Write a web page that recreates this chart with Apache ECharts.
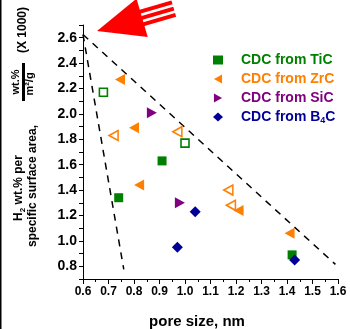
<!DOCTYPE html>
<html>
<head>
<meta charset="utf-8">
<script src="https://cdn.jsdelivr.net/npm/echarts@6/dist/echarts.min.js"></script>
<style>
    html, body {margin: 0; padding: 0; background: #fff;}
    #chart {width: 350px; height: 329px;}
</style>
</head>
<body>
<div id="chart"></div>
<script>
    // axis ranges
    const xRange = [0.6, 1.6];
    const yRange = [0.7, 2.7];
    const yLabelValues = ['0.8', '1.0', '1.2', '1.4', '1.6', '1.8', '2.0', '2.2', '2.4', '2.6'];

    // CDC from TiC (filled / open)
    const ticFilled = [[0.74, 1.34], [0.91, 1.63], [1.42, 0.89]];
    const ticOpen = [[0.68, 2.17], [1.00, 1.77]];
    // CDC from ZrC
    const zrcFilled = [[0.745, 2.27], [0.80, 1.89], [0.82, 1.44], [1.21, 1.24], [1.41, 1.06]];
    const zrcOpen = [[0.72, 1.83], [0.97, 1.86], [1.17, 1.40], [1.18, 1.28]];
    // CDC from SiC
    const sicFilled = [[0.87, 2.01], [0.98, 1.30]];
    // CDC from B4C
    const b4cFilled = [[1.04, 1.23], [0.97, 0.95], [1.43, 0.85]];

    // dashed bounds
    const boundUpper = [[0.6, 2.625], [1.59, 0.815]];
    const boundLower = [[0.6, 2.625], [0.76, 0.775]];

    const GREEN = '#008000', ORANGE = '#ff7f00', PURPLE = '#800080', BLUE = '#000099';
    const TRI_LEFT = 'path://M0,5L9,0L9,10Z';
    const TRI_RIGHT = 'path://M0,0L9,5L0,10Z';
    const FONT = 'Liberation Sans, Arial, sans-serif';

    let chart = echarts.init(document.getElementById('chart'));

    // red arrow (decoration)
    function arrowGraphic() {
        const tip = [97, 31], dir = [0.96, -0.28], perp = [0.28, 0.96];
        const len = 47, half = 20;
        const bc = [tip[0] + dir[0] * len, tip[1] + dir[1] * len];
        let items = [{
            type: 'polygon',
            shape: {points: [tip, [bc[0] - perp[0] * half, bc[1] - perp[1] * half], [bc[0] + perp[0] * half, bc[1] + perp[1] * half]]},
            style: {fill: '#ff0000'},
            z: 10
        }];
        [-6.5, 0, 6.5].forEach(function (o) {
            const s = [tip[0] + dir[0] * 38 + perp[0] * o, tip[1] + dir[1] * 38 + perp[1] * o];
            const e = [tip[0] + dir[0] * 80 + perp[0] * o, tip[1] + dir[1] * 80 + perp[1] * o];
            items.push({
                type: 'line',
                shape: {x1: s[0], y1: s[1], x2: e[0], y2: e[1]},
                style: {stroke: '#ff0000', lineWidth: 4},
                z: 9
            });
        });
        return items;
    }

    function vText(x, y, text, size, rich) {
        return {
            type: 'text', x: x, y: y, rotation: Math.PI / 2, z: 20,
            style: {
                text: text, fill: '#000', font: 'bold ' + size + 'px ' + FONT,
                align: 'center', verticalAlign: 'middle', rich: rich
            }
        };
    }

    const subRich = {
        a: {fontSize: 12, fontWeight: 'bold', fontFamily: FONT, lineHeight: 16, verticalAlign: 'middle'},
        s: {fontSize: 8, fontWeight: 'bold', fontFamily: FONT, lineHeight: 9, verticalAlign: 'bottom'}
    };

    chart.setOption({
        animation: false,
        grid: {left: 83, right: 12, top: 25, bottom: 50},
        legend: {
            orient: 'vertical',
            left: 208,
            top: 47,
            itemWidth: 10,
            itemHeight: 9,
            itemGap: 3,
            textStyle: {
                fontSize: 14, fontWeight: 'bold', fontFamily: FONT, lineHeight: 16, padding: [0, 0, 0, 13],
                rich: {sub: {fontSize: 9, fontWeight: 'bold', fontFamily: FONT, color: BLUE, lineHeight: 8, verticalAlign: 'bottom'}}
            },
            formatter: function (name) {
                return name === 'CDC from B4C' ? 'CDC from B{sub|4}C' : name;
            },
            data: [
                {name: 'CDC from TiC', textStyle: {color: GREEN}},
                {name: 'CDC from ZrC', textStyle: {color: ORANGE}},
                {name: 'CDC from SiC', textStyle: {color: PURPLE}},
                {name: 'CDC from B4C', textStyle: {color: BLUE}}
            ]
        },
        xAxis: {
            type: 'value',
            min: xRange[0], max: xRange[1], interval: 0.1,
            splitLine: {show: false},
            axisLine: {lineStyle: {color: '#000', width: 1}},
            axisTick: {length: 5, lineStyle: {color: '#000'}},
            minorTick: {show: true, splitNumber: 2, length: 3, lineStyle: {color: '#000'}},
            axisLabel: {
                color: '#000', fontSize: 12, fontWeight: 'bold', fontFamily: FONT, margin: 7,
                formatter: function (v) { return v.toFixed(1); }
            }
        },
        yAxis: {
            type: 'value',
            min: yRange[0], max: yRange[1], interval: 0.1,
            splitLine: {show: false},
            axisLine: {show: true, lineStyle: {color: '#000', width: 1}},
            axisTick: {length: 4, lineStyle: {color: '#000'}},
            axisLabel: {
                color: '#000', fontSize: 14, fontWeight: 'bold', fontFamily: FONT, margin: 6,
                formatter: function (v) {
                    const t = v.toFixed(1);
                    return yLabelValues.indexOf(t) >= 0 ? t : '';
                }
            }
        },
        graphic: arrowGraphic().concat([
            // left border of the figure
            {type: 'rect', shape: {x: 0, y: 0, width: 1.5, height: 329}, style: {fill: '#000'}, z: 20},
            vText(33, 186, 'specific surface area,', 12),
            vText(19, 188, '{a|H}{s|2}{a| wt.% per}', 12, subRich),
            vText(16, 82, 'wt.%', 11),
            {type: 'rect', shape: {x: 22, y: 63, width: 3, height: 38}, style: {fill: '#000'}, z: 20},
            vText(30, 84, 'm²/g', 11),
            vText(23, 30, '(X 1000)', 12),
            {
                type: 'text', x: 197, y: 322, z: 20,
                style: {text: 'pore size, nm', fill: '#000', font: 'bold 15px ' + FONT, align: 'center', verticalAlign: 'middle'}
            }
        ]),
        series: [
            {
                type: 'line', data: boundUpper, symbol: 'none', silent: true, z: 1,
                lineStyle: {color: '#000', width: 1.5, type: [7, 6]}
            },
            {
                type: 'line', data: boundLower, symbol: 'none', silent: true, z: 1,
                lineStyle: {color: '#000', width: 1.5, type: [7, 6]}
            },
            {
                name: 'CDC from TiC', type: 'scatter', data: ticFilled,
                symbol: 'rect', symbolSize: 9, itemStyle: {color: GREEN, opacity: 1}
            },
            {
                name: 'TiC open', type: 'scatter', data: ticOpen,
                symbol: 'rect', symbolSize: 8,
                itemStyle: {color: '#fff', borderColor: GREEN, borderWidth: 1.6, opacity: 1}
            },
            {
                name: 'CDC from ZrC', type: 'scatter', data: zrcFilled,
                symbol: TRI_LEFT, symbolSize: [10, 11], itemStyle: {color: ORANGE, opacity: 1}
            },
            {
                name: 'ZrC open', type: 'scatter', data: zrcOpen,
                symbol: TRI_LEFT, symbolSize: [9, 10],
                itemStyle: {color: '#fff', borderColor: ORANGE, borderWidth: 1.6, opacity: 1}
            },
            {
                name: 'CDC from SiC', type: 'scatter', data: sicFilled,
                symbol: TRI_RIGHT, symbolSize: [10, 11], itemStyle: {color: PURPLE, opacity: 1}
            },
            {
                name: 'CDC from B4C', type: 'scatter', data: b4cFilled,
                symbol: 'diamond', symbolSize: 11, itemStyle: {color: BLUE, opacity: 1}
            }
        ]
    });
</script>
</body>
</html>
